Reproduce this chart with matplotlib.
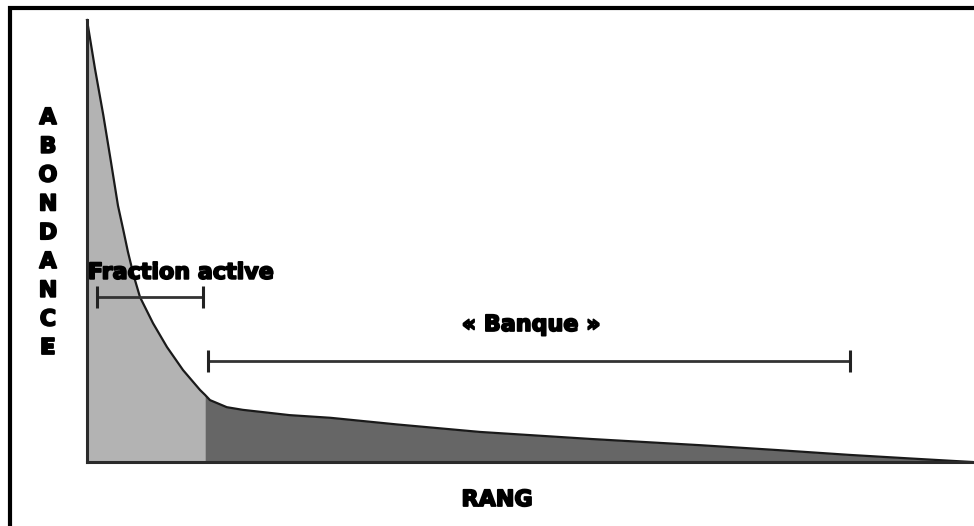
import numpy as np
import matplotlib.pyplot as plt
import matplotlib.patheffects as pe
from matplotlib.patches import Rectangle

# rank (0-100) vs abundance (0-100)
rang = [0, 0.9, 1.84, 2.7, 3.5, 4.1, 4.63, 5.3, 5.99, 7.46, 9.04, 10.85, 12.77, 13.33,
        13.9, 15.8, 17.6, 22.9, 27.5, 35, 44.4, 57, 69.3, 78, 86.2, 93, 100]
abondance = [100, 89, 78.5, 68, 58, 52.5, 47.5, 42.0, 37.3, 31.4, 26.0, 20.8, 16.3, 15.2,
             14.0, 12.4, 11.8, 10.6, 10.0, 8.5, 6.8, 5.2, 3.8, 2.7, 1.6, 0.8, 0]
seuil = 13.33  # limit between active fraction and seed bank

fraction_active = (1.1, 13.1, 37.3)   # x0, x1, y
banque = (13.7, 86.2, 22.9)

rang = np.array(rang)
abondance = np.array(abondance)

W, H = 974, 526
fig = plt.figure(figsize=(W / 100, H / 100), dpi=100)
ax = fig.add_axes([87 / W, (H - 462) / H, (972 - 87) / W, (462 - 20) / H])
ax.set_xlim(0, 100)
ax.set_ylim(0, 100)

m1 = rang <= seuil
m2 = rang >= seuil
ax.fill_between(rang[m1], abondance[m1], color='#b3b3b3', lw=0)
ax.fill_between(rang[m2], abondance[m2], color='#666666', lw=0)
ax.plot(rang, abondance, color='#1a1a1a', lw=1.6, clip_on=False)

for x0, x1, y in (fraction_active, banque):
    ax.plot([x0, x1], [y, y], color='#333333', lw=2)
    ax.plot([x0, x1], [y, y], ls='none', marker='|', ms=16, mew=2.2, color='#222222')

heavy = dict(fontsize=16, fontweight='bold',
             path_effects=[pe.withStroke(linewidth=1.3, foreground='black')])

ax.text(0.1, 42.8, 'Fraction active', ha='left', va='center', **heavy)
ax.text(50.2, 31.0, '« Banque »', ha='center', va='center', **heavy)

for s in ('top', 'right'):
    ax.spines[s].set_visible(False)
for s in ('left', 'bottom'):
    ax.spines[s].set_linewidth(2.2)
    ax.spines[s].set_color('#2a2a2a')
ax.set_xticks([])
ax.set_yticks([])

fig.text(497 / W, 1 - 500 / H, 'RANG', ha='center', va='center', **heavy)
for i, c in enumerate('ABONDANCE'):
    fig.text(48 / W, 1 - (118 + i * 28.8) / H, c, ha='center', va='center', **heavy)

# frame around the picture (cut off on right and bottom)
fig.patches.append(Rectangle((9.5 / W, -0.1), 1.5, 1 - 8 / H + 0.1,
                             transform=fig.transFigure, fill=False,
                             lw=3, ec='black'))

fig.savefig('out.png', dpi=100)
